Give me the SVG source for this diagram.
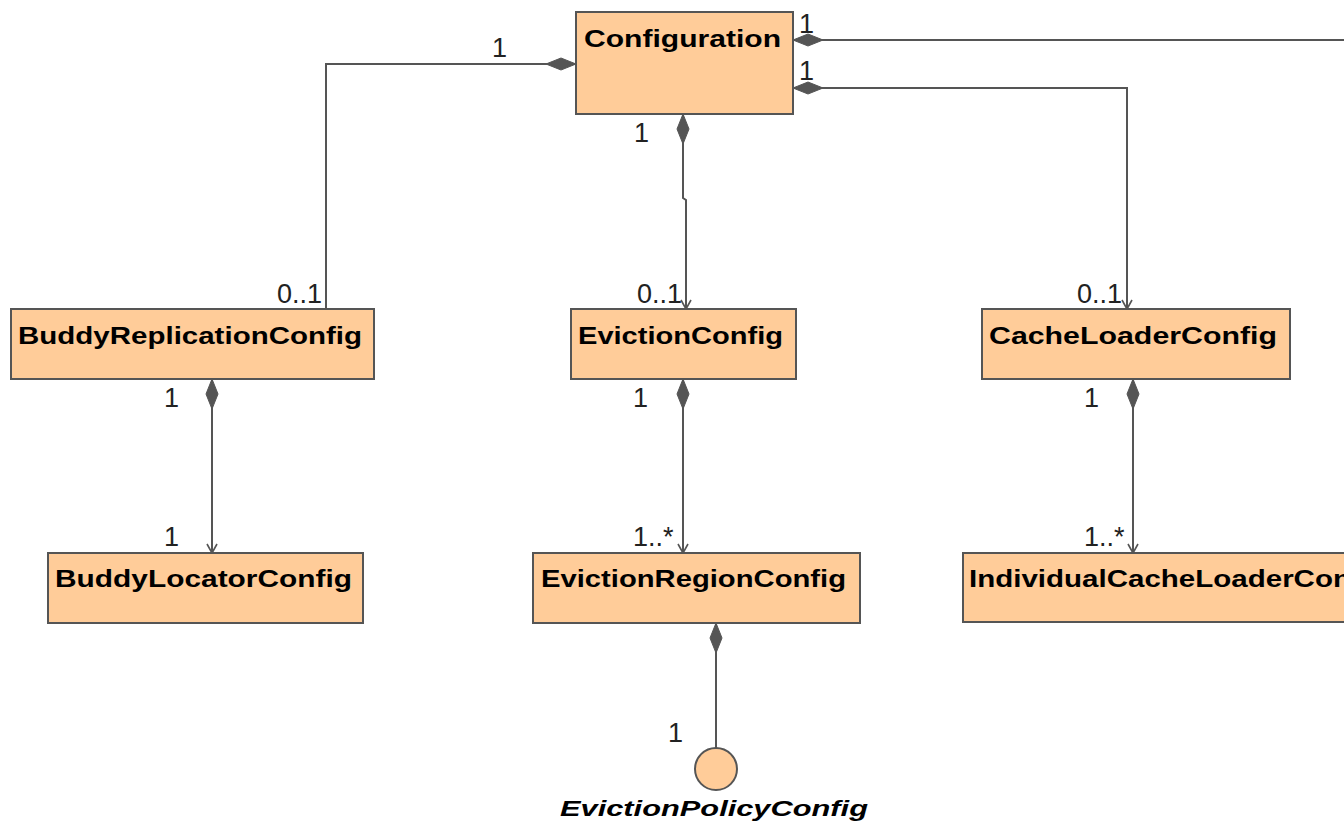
<svg xmlns="http://www.w3.org/2000/svg" width="1344" height="823" viewBox="0 0 1344 823">
<style>
.box{fill:#FFCC99;stroke:#555;stroke-width:2}
.name{font-family:"Liberation Sans",Arial,sans-serif;font-weight:bold;font-size:24px;fill:#000}
.iname{font-family:"Liberation Sans",Arial,sans-serif;font-weight:bold;font-style:italic;font-size:22px;fill:#000}
.mult{font-family:"Liberation Sans",Arial,sans-serif;font-size:27px;fill:#222}
.conn{fill:none;stroke:#555;stroke-width:2}
.comp{marker-start:url(#diamond)}
.nav{marker-end:url(#open)}
</style>
<defs>
<marker id="diamond" markerUnits="userSpaceOnUse" markerWidth="34" markerHeight="16" viewBox="-1 -8 34 16" refX="0" refY="0" orient="auto">
<path d="M0,0 L15,-6 L30,0 L15,6 Z" fill="#555" stroke="#555" stroke-width="1"/>
</marker>
<marker id="open" markerUnits="userSpaceOnUse" markerWidth="14" markerHeight="14" viewBox="-10 -7 12 14" refX="0" refY="0" orient="auto">
<path d="M-9,-5 L0,0 L-9,5" fill="none" stroke="#555" stroke-width="1.6"/>
</marker>
</defs>
<rect width="1344" height="823" fill="#fff"/>

<g id="connectors">
<path class="conn comp" d="M793,40 L1344,40"/>
<path class="conn comp nav" d="M793,88 L1127,88 L1127,309"/>
<path class="conn comp" d="M576,64 L326,64 L326,309"/>
<path class="conn comp nav" d="M683,114 L683,198 L686,200 L686,309"/>
<path class="conn comp nav" d="M212,379 L212,553"/>
<path class="conn comp nav" d="M683,379 L683,553"/>
<path class="conn comp nav" d="M1133,379 L1133,553"/>
<path class="conn comp" d="M716,623 L716,748"/>
<text class="mult" x="799" y="33">1</text>
<text class="mult" x="799" y="80">1</text>
<text class="mult" x="492" y="57">1</text>
<text class="mult" x="634" y="142">1</text>
<text class="mult" x="277" y="303">0..1</text>
<text class="mult" x="637" y="303">0..1</text>
<text class="mult" x="1077" y="303">0..1</text>
<text class="mult" x="164" y="407">1</text>
<text class="mult" x="633" y="407">1</text>
<text class="mult" x="1084" y="407">1</text>
<text class="mult" x="164" y="546">1</text>
<text class="mult" x="633" y="546">1..*</text>
<text class="mult" x="1084" y="546">1..*</text>
<text class="mult" x="668" y="742">1</text>
</g>

<g id="Configuration">
<rect class="box" x="576" y="12" width="217" height="102"/>
<text class="name" x="584" y="47" textLength="197" lengthAdjust="spacingAndGlyphs">Configuration</text>
</g>
<g id="BuddyReplicationConfig">
<rect class="box" x="11" y="309" width="363" height="70"/>
<text class="name" x="18" y="344" textLength="344" lengthAdjust="spacingAndGlyphs">BuddyReplicationConfig</text>
</g>
<g id="EvictionConfig">
<rect class="box" x="571" y="309" width="225" height="70"/>
<text class="name" x="578" y="344" textLength="205" lengthAdjust="spacingAndGlyphs">EvictionConfig</text>
</g>
<g id="CacheLoaderConfig">
<rect class="box" x="982" y="309" width="308" height="70"/>
<text class="name" x="989" y="344" textLength="288" lengthAdjust="spacingAndGlyphs">CacheLoaderConfig</text>
</g>
<g id="BuddyLocatorConfig">
<rect class="box" x="48" y="553" width="315" height="70"/>
<text class="name" x="55" y="587" textLength="297" lengthAdjust="spacingAndGlyphs">BuddyLocatorConfig</text>
</g>
<g id="EvictionRegionConfig">
<rect class="box" x="533" y="553" width="327" height="70"/>
<text class="name" x="541" y="587" textLength="305" lengthAdjust="spacingAndGlyphs">EvictionRegionConfig</text>
</g>
<g id="IndividualCacheLoaderConfig">
<rect class="box" x="963" y="553" width="440" height="69"/>
<text class="name" x="969" y="587" textLength="418" lengthAdjust="spacingAndGlyphs">IndividualCacheLoaderConfig</text>
</g>
<g id="EvictionPolicyConfig">
<circle cx="716" cy="769" r="21" fill="#FFCC99" stroke="#555" stroke-width="2"/>
<text class="iname" x="560" y="816" textLength="308" lengthAdjust="spacingAndGlyphs">EvictionPolicyConfig</text>
</g>
</svg>
